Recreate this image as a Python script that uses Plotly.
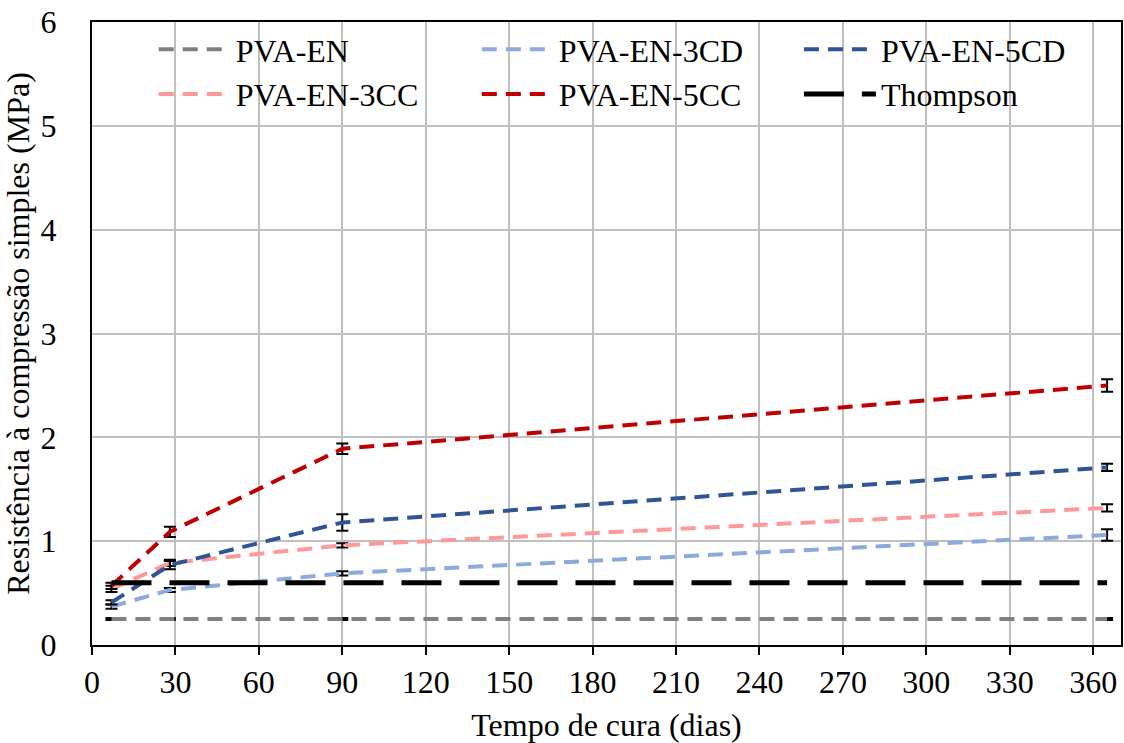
import plotly.graph_objects as go

days = [7, 28, 90, 365]
pva_en = [0.25, 0.25, 0.25, 0.25]
pva_en_err = [0.01, 0.01, 0.01, 0.01]
pva_3cd = [0.37, 0.53, 0.69, 1.06]
pva_3cd_err = [0.02, 0.02, 0.02, 0.055]
pva_5cd = [0.41, 0.77, 1.18, 1.71]
pva_5cd_err = [0.02, 0.04, 0.08, 0.035]
pva_3cc = [0.54, 0.79, 0.96, 1.32]
pva_3cc_err = [0.03, 0.03, 0.02, 0.035]
pva_5cc = [0.57, 1.09, 1.89, 2.50]
pva_5cc_err = [0.03, 0.05, 0.05, 0.06]
thompson_x = [7, 365]
thompson_y = [0.6, 0.6]

FONT = "Liberation Serif"

series = [
    ("PVA-EN", pva_en, pva_en_err, "#808080", "legend"),
    ("PVA-EN-3CC", pva_3cc, pva_3cc_err, "#FF9999", "legend"),
    ("PVA-EN-3CD", pva_3cd, pva_3cd_err, "#8EA9DB", "legend2"),
    ("PVA-EN-5CC", pva_5cc, pva_5cc_err, "#C00000", "legend2"),
    ("PVA-EN-5CD", pva_5cd, pva_5cd_err, "#2F5597", "legend3"),
]

fig = go.Figure()
for name, ys, err, color, leg in series:
    fig.add_trace(go.Scatter(
        x=days, y=ys, name=name, mode="lines", legend=leg,
        line=dict(color=color, width=4, dash="15px,9px"),
        error_y=dict(type="data", array=err, visible=True, color="black",
                     thickness=2, width=6),
    ))

fig.add_trace(go.Scatter(
    x=thompson_x, y=thompson_y, name="Thompson", mode="lines", legend="legend3",
    line=dict(color="black", width=5, dash="40px,18px"),
))

leg_common = dict(
    font=dict(family=FONT, size=32, color="black"),
    bgcolor="rgba(0,0,0,0)", borderwidth=0,
    orientation="v", yanchor="top", xanchor="left", itemwidth=72,
    y=1.0,
)

fig.update_layout(
    width=1124, height=743,
    margin=dict(l=92, r=1, t=22, b=98),
    paper_bgcolor="white", plot_bgcolor="white",
    font=dict(family=FONT, size=32, color="black"),
    showlegend=True,
    legend=dict(**leg_common, x=0.06),
    legend2=dict(**leg_common, x=0.374),
    legend3=dict(**leg_common, x=0.687),
    xaxis=dict(
        range=[0, 370], tickvals=list(range(0, 361, 30)),
        showgrid=True, gridcolor="#BFBFBF", gridwidth=2,
        showline=True, linecolor="black", linewidth=2, mirror=True,
        ticks="outside", ticklen=8, tickwidth=2, tickcolor="black",
        tickfont=dict(family=FONT, size=32, color="black"),
        title=dict(text="Tempo de cura (dias)", font=dict(family=FONT, size=32, color="black"), standoff=16),
        zeroline=False,
    ),
    yaxis=dict(
        range=[0, 6], dtick=1,
        showgrid=True, gridcolor="#BFBFBF", gridwidth=2,
        showline=True, linecolor="black", linewidth=2, mirror=True,
        ticks="", ticklabelstandoff=27,
        tickfont=dict(family=FONT, size=32, color="black"),
        title=dict(text="Resistência à compressão simples (MPa)", font=dict(family=FONT, size=32, color="black"), standoff=8),
        zeroline=False,
    ),
)

fig.write_html("out.html")
